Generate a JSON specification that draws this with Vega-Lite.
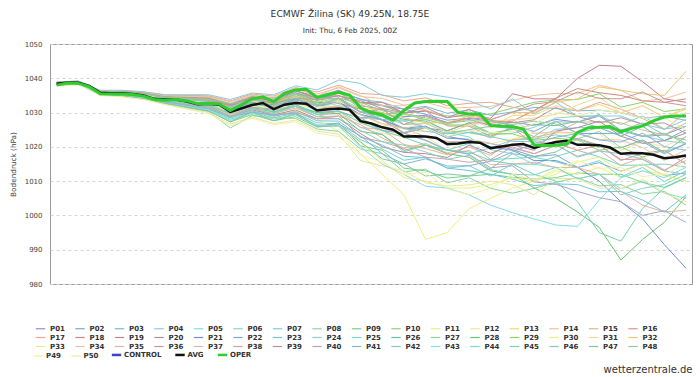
{
  "$schema": "https://vega.github.io/schema/vega-lite/v6.json",
  "width": 642,
  "height": 240,
  "autosize": {"type": "none"},
  "padding": {"left": 50, "top": 44, "right": 8, "bottom": 93},
  "background": "white",
  "config": {
    "font": "DejaVu Sans",
    "view": {"stroke": "#999999", "strokeWidth": 1},
    "legend": {
      "title": null,
      "orient": "none",
      "direction": "horizontal",
      "gridAlign": "each",
      "symbolLimit": 100,
      "symbolType": "stroke",
      "symbolSize": 88,
      "symbolStrokeWidth": 1.2,
      "labelFont": "DejaVu Sans",
      "labelFontSize": 7,
      "labelFontWeight": "bold",
      "labelColor": "#333333",
      "labelOffset": 4,
      "columnPadding": 7.5,
      "rowPadding": 0
    }
  },
  "title": {
    "text": "ECMWF Žilina (SK) 49.25N, 18.75E",
    "subtitle": "Init: Thu, 6 Feb 2025, 00Z",
    "anchor": "middle",
    "frame": "group",
    "dx": -21,
    "offset": 6,
    "font": "DejaVu Sans",
    "fontSize": 9.2,
    "fontWeight": "normal",
    "color": "#333333",
    "subtitleFont": "DejaVu Sans",
    "subtitleFontSize": 7.3,
    "subtitleColor": "#333333",
    "subtitlePadding": 8
  },
  "datasets": {
    "times": [
      {"k":"t00","t":1738846800000},{"k":"t01","t":1738890000000},{"k":"t02","t":1738933200000},{"k":"t03","t":1738976400000},{"k":"t04","t":1739019600000},{"k":"t05","t":1739062800000},{"k":"t06","t":1739106000000},{"k":"t07","t":1739149200000},{"k":"t08","t":1739192400000},{"k":"t09","t":1739235600000},{"k":"t10","t":1739278800000},{"k":"t11","t":1739322000000},{"k":"t12","t":1739365200000},{"k":"t13","t":1739408400000},{"k":"t14","t":1739451600000},{"k":"t15","t":1739494800000},{"k":"t16","t":1739538000000},{"k":"t17","t":1739581200000},{"k":"t18","t":1739624400000},{"k":"t19","t":1739667600000},{"k":"t20","t":1739710800000},{"k":"t21","t":1739754000000},{"k":"t22","t":1739797200000},{"k":"t23","t":1739840400000},{"k":"t24","t":1739883600000},{"k":"t25","t":1739926800000},{"k":"t26","t":1739970000000},{"k":"t27","t":1740013200000},{"k":"t28","t":1740056400000},{"k":"t29","t":1740099600000}
    ],
    "members": [
      {"s":"P01","t00":1038.6,"t01":1039.0,"t02":1036.2,"t03":1036.0,"t04":1035.6,"t05":1034.5,"t06":1034.2,"t07":1033.9,"t08":1032.0,"t09":1034.0,"t10":1033.1,"t11":1035.3,"t12":1033.6,"t13":1035.0,"t14":1032.0,"t15":1031.0,"t16":1028.8,"t17":1029.2,"t18":1027.1,"t19":1028.0,"t20":1026.2,"t21":1027.2,"t22":1026.3,"t23":1028.0,"t24":1027.2,"t25":1029.0,"t26":1024.8,"t27":1023.0,"t28":1023.5,"t29":1026.0},
      {"s":"P02","t00":1038.5,"t01":1038.8,"t02":1035.9,"t03":1035.8,"t04":1035.2,"t05":1034.1,"t06":1033.6,"t07":1033.1,"t08":1030.9,"t09":1032.9,"t10":1031.8,"t11":1033.8,"t12":1031.8,"t13":1032.7,"t14":1029.3,"t15":1027.8,"t16":1025.3,"t17":1025.5,"t18":1022.5,"t19":1022.2,"t20":1021.0,"t21":1019.2,"t22":1017.2,"t23":1017.7,"t24":1014.0,"t25":1015.4,"t26":1012.9,"t27":1015.0,"t28":1011.6,"t29":1012.4},
      {"s":"P03","t00":1038.8,"t01":1039.0,"t02":1036.3,"t03":1036.2,"t04":1035.8,"t05":1034.8,"t06":1034.6,"t07":1034.4,"t08":1032.7,"t09":1034.6,"t10":1033.9,"t11":1036.3,"t12":1034.8,"t13":1036.5,"t14":1033.8,"t15":1033.0,"t16":1031.0,"t17":1031.8,"t18":1029.8,"t19":1030.8,"t20":1029.2,"t21":1030.2,"t22":1031.5,"t23":1031.2,"t24":1030.5,"t25":1030.7,"t26":1030.0,"t27":1028.3,"t28":1029.0,"t29":1027.7},
      {"s":"P04","t00":1038.3,"t01":1038.6,"t02":1035.7,"t03":1035.4,"t04":1034.8,"t05":1033.5,"t06":1032.8,"t07":1032.1,"t08":1029.5,"t09":1031.5,"t10":1030.2,"t11":1031.8,"t12":1029.4,"t13":1029.7,"t14":1025.7,"t15":1023.6,"t16":1018.5,"t17":1020.5,"t18":1019.1,"t19":1018.0,"t20":1019.7,"t21":1022.0,"t22":1022.2,"t23":1025.1,"t24":1025.6,"t25":1025.6,"t26":1025.0,"t27":1023.2,"t28":1021.8,"t29":1021.0},
      {"s":"P05","t00":1038.6,"t01":1038.9,"t02":1036.1,"t03":1036.0,"t04":1035.4,"t05":1034.4,"t06":1034.0,"t07":1033.6,"t08":1031.6,"t09":1033.6,"t10":1032.7,"t11":1034.8,"t12":1033.0,"t13":1034.2,"t14":1031.1,"t15":1029.9,"t16":1027.6,"t17":1028.0,"t18":1024.2,"t19":1022.9,"t20":1019.2,"t21":1018.0,"t22":1014.9,"t23":1014.0,"t24":1010.7,"t25":1012.0,"t26":1007.8,"t27":1010.0,"t28":1006.5,"t29":1005.0},
      {"s":"P06","t00":1038.5,"t01":1038.8,"t02":1035.9,"t03":1035.7,"t04":1035.1,"t05":1033.9,"t06":1033.4,"t07":1032.9,"t08":1030.6,"t09":1032.6,"t10":1031.4,"t11":1033.3,"t12":1031.2,"t13":1032.0,"t14":1028.4,"t15":1028.0,"t16":1024.2,"t17":1026.0,"t18":1022.9,"t19":1024.3,"t20":1023.5,"t21":1024.0,"t22":1025.7,"t23":1028.4,"t24":1028.9,"t25":1029.0,"t26":1026.5,"t27":1029.0,"t28":1025.2,"t29":1026.0},
      {"s":"P07","t00":1038.1,"t01":1038.4,"t02":1035.4,"t03":1035.1,"t04":1034.3,"t05":1033.0,"t06":1032.0,"t07":1031.0,"t08":1028.0,"t09":1030.1,"t10":1028.5,"t11":1029.8,"t12":1027.0,"t13":1026.7,"t14":1022.1,"t15":1019.4,"t16":1016.1,"t17":1017.0,"t18":1013.8,"t19":1014.5,"t20":1011.5,"t21":1015.0,"t22":1014.9,"t23":1017.2,"t24":1019.0,"t25":1017.1,"t26":1014.6,"t27":1014.7,"t28":1015.0,"t29":1014.1},
      {"s":"P08","t00":1038.6,"t01":1038.9,"t02":1036.0,"t03":1035.9,"t04":1035.3,"t05":1034.2,"t06":1033.8,"t07":1033.4,"t08":1031.3,"t09":1033.3,"t10":1032.3,"t11":1034.3,"t12":1032.4,"t13":1033.5,"t14":1030.2,"t15":1028.9,"t16":1026.5,"t17":1026.8,"t18":1024.3,"t19":1024.8,"t20":1022.6,"t21":1026.0,"t22":1022.2,"t23":1023.5,"t24":1022.3,"t25":1024.5,"t26":1019.7,"t27":1022.0,"t28":1018.4,"t29":1021.0},
      {"s":"P09","t00":1038.0,"t01":1038.3,"t02":1035.2,"t03":1034.9,"t04":1034.1,"t05":1032.7,"t06":1031.6,"t07":1030.5,"t08":1027.3,"t09":1029.4,"t10":1027.6,"t11":1028.8,"t12":1025.8,"t13":1027.0,"t14":1020.3,"t15":1019.0,"t16":1013.8,"t17":1013.0,"t18":1010.9,"t19":1011.5,"t20":1012.0,"t21":1011.1,"t22":1010.6,"t23":1011.0,"t24":1012.4,"t25":1012.0,"t26":1012.0,"t27":1009.6,"t28":1008.2,"t29":1011.0},
      {"s":"P10","t00":1038.7,"t01":1039.0,"t02":1036.2,"t03":1036.1,"t04":1035.7,"t05":1034.6,"t06":1034.4,"t07":1034.2,"t08":1032.4,"t09":1034.3,"t10":1033.5,"t11":1035.8,"t12":1034.2,"t13":1035.7,"t14":1032.9,"t15":1032.0,"t16":1029.9,"t17":1030.5,"t18":1029.0,"t19":1029.0,"t20":1029.6,"t21":1031.3,"t22":1033.0,"t23":1033.7,"t24":1033.8,"t25":1035.5,"t26":1031.6,"t27":1033.0,"t28":1030.3,"t29":1031.1},
      {"s":"P11","t00":1038.2,"t01":1038.5,"t02":1035.6,"t03":1035.4,"t04":1034.7,"t05":1033.4,"t06":1032.6,"t07":1031.8,"t08":1029.0,"t09":1031.0,"t10":1029.5,"t11":1030.5,"t12":1028.0,"t13":1024.5,"t14":1018.0,"t15":1012.0,"t16":1006.0,"t17":993.0,"t18":995.0,"t19":1002.0,"t20":1005.0,"t21":1008.0,"t22":1010.0,"t23":1013.0,"t24":1012.0,"t25":1014.0,"t26":1011.0,"t27":1013.0,"t28":1012.0,"t29":1010.0},
      {"s":"P12","t00":1038.4,"t01":1038.7,"t02":1035.8,"t03":1035.6,"t04":1035.0,"t05":1033.8,"t06":1033.2,"t07":1032.6,"t08":1030.2,"t09":1032.2,"t10":1031.0,"t11":1032.8,"t12":1030.6,"t13":1029.5,"t14":1027.5,"t15":1024.0,"t16":1023.0,"t17":1023.0,"t18":1019.0,"t19":1022.2,"t20":1020.9,"t21":1022.3,"t22":1024.0,"t23":1024.1,"t24":1023.9,"t25":1023.9,"t26":1019.0,"t27":1021.5,"t28":1020.1,"t29":1023.0},
      {"s":"P13","t00":1038.6,"t01":1038.9,"t02":1036.1,"t03":1036.0,"t04":1035.4,"t05":1034.4,"t06":1034.0,"t07":1033.6,"t08":1031.6,"t09":1033.0,"t10":1032.7,"t11":1035.5,"t12":1033.0,"t13":1033.5,"t14":1031.1,"t15":1031.0,"t16":1026.5,"t17":1028.0,"t18":1026.5,"t19":1028.3,"t20":1025.5,"t21":1029.2,"t22":1029.2,"t23":1032.0,"t24":1030.5,"t25":1032.4,"t26":1029.9,"t27":1032.0,"t28":1028.6,"t29":1031.0},
      {"s":"P14","t00":1038.8,"t01":1039.1,"t02":1036.4,"t03":1036.3,"t04":1035.9,"t05":1034.9,"t06":1034.8,"t07":1034.7,"t08":1033.1,"t09":1035.0,"t10":1034.4,"t11":1036.8,"t12":1035.4,"t13":1037.2,"t14":1034.7,"t15":1034.1,"t16":1032.2,"t17":1033.0,"t18":1031.3,"t19":1031.5,"t20":1031.8,"t21":1033.5,"t22":1035.0,"t23":1035.6,"t24":1035.5,"t25":1038.0,"t26":1036.5,"t27":1033.4,"t28":1034.0,"t29":1036.0},
      {"s":"P15","t00":1038.3,"t01":1038.6,"t02":1035.6,"t03":1035.3,"t04":1034.7,"t05":1033.4,"t06":1032.6,"t07":1031.8,"t08":1029.1,"t09":1031.2,"t10":1029.7,"t11":1031.3,"t12":1028.8,"t13":1029.0,"t14":1026.5,"t15":1022.6,"t16":1019.6,"t17":1021.0,"t18":1018.2,"t19":1020.0,"t20":1017.5,"t21":1022.1,"t22":1022.8,"t23":1024.0,"t24":1027.2,"t25":1027.3,"t26":1027.0,"t27":1024.9,"t28":1023.5,"t29":1027.0},
      {"s":"P16","t00":1038.6,"t01":1039.0,"t02":1036.2,"t03":1036.0,"t04":1035.6,"t05":1034.5,"t06":1034.2,"t07":1033.9,"t08":1032.0,"t09":1034.8,"t10":1033.1,"t11":1035.3,"t12":1034.5,"t13":1035.0,"t14":1033.0,"t15":1032.2,"t16":1030.0,"t17":1030.5,"t18":1026.1,"t19":1026.0,"t20":1023.1,"t21":1025.5,"t22":1020.8,"t23":1021.2,"t24":1019.0,"t25":1020.5,"t26":1016.3,"t27":1016.4,"t28":1013.0,"t29":1017.0},
      {"s":"P17","t00":1038.9,"t01":1039.2,"t02":1036.4,"t03":1036.4,"t04":1036.0,"t05":1035.1,"t06":1035.0,"t07":1034.9,"t08":1033.4,"t09":1035.4,"t10":1034.8,"t11":1037.3,"t12":1036.0,"t13":1038.0,"t14":1035.6,"t15":1035.2,"t16":1033.4,"t17":1034.3,"t18":1032.0,"t19":1032.7,"t20":1033.0,"t21":1031.6,"t22":1030.4,"t23":1034.0,"t24":1030.5,"t25":1033.0,"t26":1031.0,"t27":1028.3,"t28":1025.0,"t29":1030.0},
      {"s":"P18","t00":1038.5,"t01":1038.8,"t02":1035.9,"t03":1035.8,"t04":1035.2,"t05":1034.1,"t06":1033.6,"t07":1033.1,"t08":1030.9,"t09":1032.9,"t10":1031.8,"t11":1033.8,"t12":1033.0,"t13":1032.7,"t14":1031.0,"t15":1027.8,"t16":1024.0,"t17":1025.5,"t18":1024.7,"t19":1027.0,"t20":1026.9,"t21":1027.5,"t22":1030.6,"t23":1034.2,"t24":1037.0,"t25":1035.8,"t26":1035.0,"t27":1033.4,"t28":1033.0,"t29":1034.0},
      {"s":"P19","t00":1038.7,"t01":1039.0,"t02":1036.2,"t03":1036.1,"t04":1035.7,"t05":1034.6,"t06":1034.4,"t07":1034.2,"t08":1032.4,"t09":1034.3,"t10":1033.5,"t11":1036.5,"t12":1034.2,"t13":1036.5,"t14":1032.9,"t15":1033.0,"t16":1029.9,"t17":1030.5,"t18":1028.5,"t19":1029.5,"t20":1028.3,"t21":1035.5,"t22":1034.0,"t23":1034.0,"t24":1040.0,"t25":1043.8,"t26":1043.5,"t27":1039.0,"t28":1034.0,"t29":1033.0},
      {"s":"P20","t00":1038.2,"t01":1038.5,"t02":1035.5,"t03":1035.2,"t04":1034.6,"t05":1033.2,"t06":1032.4,"t07":1031.6,"t08":1028.8,"t09":1030.8,"t10":1029.3,"t11":1030.8,"t12":1028.2,"t13":1028.2,"t14":1023.9,"t15":1020.0,"t16":1018.4,"t17":1018.0,"t18":1016.9,"t19":1020.5,"t20":1018.1,"t21":1020.6,"t22":1019.0,"t23":1024.6,"t24":1025.6,"t25":1027.5,"t26":1023.1,"t27":1021.0,"t28":1021.8,"t29":1024.0},
      {"s":"P21","t00":1038.6,"t01":1038.9,"t02":1036.0,"t03":1035.9,"t04":1035.3,"t05":1034.2,"t06":1033.8,"t07":1033.4,"t08":1031.0,"t09":1033.0,"t10":1032.0,"t11":1034.0,"t12":1032.0,"t13":1033.0,"t14":1029.5,"t15":1028.0,"t16":1025.5,"t17":1026.0,"t18":1023.0,"t19":1022.0,"t20":1020.0,"t21":1019.0,"t22":1016.0,"t23":1016.0,"t24":1014.0,"t25":1010.0,"t26":1004.0,"t27":999.0,"t28":991.5,"t29":984.6},
      {"s":"P22","t00":1038.7,"t01":1039.0,"t02":1036.2,"t03":1036.1,"t04":1035.7,"t05":1034.6,"t06":1034.4,"t07":1034.2,"t08":1031.8,"t09":1034.3,"t10":1034.2,"t11":1035.8,"t12":1033.5,"t13":1035.7,"t14":1034.0,"t15":1032.0,"t16":1031.0,"t17":1029.5,"t18":1027.8,"t19":1028.3,"t20":1027.5,"t21":1026.2,"t22":1024.5,"t23":1027.5,"t24":1023.9,"t25":1023.9,"t26":1024.0,"t27":1021.5,"t28":1018.0,"t29":1020.9},
      {"s":"P23","t00":1038.2,"t01":1038.5,"t02":1035.5,"t03":1035.2,"t04":1034.5,"t05":1033.1,"t06":1032.2,"t07":1031.3,"t08":1028.4,"t09":1030.5,"t10":1028.9,"t11":1030.3,"t12":1027.6,"t13":1027.5,"t14":1023.0,"t15":1020.5,"t16":1017.3,"t17":1016.8,"t18":1013.8,"t19":1013.1,"t20":1012.0,"t21":1010.6,"t22":1008.7,"t23":1009.2,"t24":1009.0,"t25":1006.9,"t26":1007.0,"t27":1004.5,"t28":1001.0,"t29":1006.0},
      {"s":"P24","t00":1038.9,"t01":1039.2,"t02":1036.5,"t03":1036.5,"t04":1036.1,"t05":1035.2,"t06":1035.2,"t07":1035.2,"t08":1033.8,"t09":1035.7,"t10":1035.2,"t11":1037.8,"t12":1036.6,"t13":1039.5,"t14":1038.5,"t15":1035.0,"t16":1034.5,"t17":1035.5,"t18":1034.5,"t19":1033.4,"t20":1031.1,"t21":1034.0,"t22":1029.6,"t23":1033.0,"t24":1028.9,"t25":1029.0,"t26":1029.0,"t27":1026.6,"t28":1025.2,"t29":1028.0},
      {"s":"P25","t00":1038.4,"t01":1038.7,"t02":1035.7,"t03":1035.5,"t04":1034.9,"t05":1033.7,"t06":1033.0,"t07":1032.3,"t08":1029.8,"t09":1031.9,"t10":1030.6,"t11":1032.3,"t12":1030.0,"t13":1030.5,"t14":1028.0,"t15":1024.7,"t16":1024.0,"t17":1021.8,"t18":1019.0,"t19":1021.0,"t20":1016.3,"t21":1016.6,"t22":1017.0,"t23":1015.6,"t24":1014.0,"t25":1016.0,"t26":1011.2,"t27":1014.0,"t28":1009.9,"t29":1013.0},
      {"s":"P26","t00":1038.6,"t01":1038.9,"t02":1036.0,"t03":1035.9,"t04":1035.3,"t05":1034.2,"t06":1033.8,"t07":1033.4,"t08":1031.3,"t09":1032.8,"t10":1032.3,"t11":1034.8,"t12":1032.4,"t13":1034.0,"t14":1030.2,"t15":1030.0,"t16":1028.0,"t17":1027.5,"t18":1024.7,"t19":1027.0,"t20":1024.0,"t21":1025.1,"t22":1026.5,"t23":1026.2,"t24":1027.5,"t25":1025.6,"t26":1023.1,"t27":1026.0,"t28":1021.8,"t29":1025.0},
      {"s":"P27","t00":1038.0,"t01":1038.3,"t02":1035.2,"t03":1034.8,"t04":1034.0,"t05":1032.5,"t06":1031.4,"t07":1030.3,"t08":1025.5,"t09":1029.1,"t10":1028.5,"t11":1028.3,"t12":1025.2,"t13":1024.5,"t14":1019.4,"t15":1018.0,"t16":1012.7,"t17":1013.5,"t18":1009.5,"t19":1011.0,"t20":1007.9,"t21":1006.5,"t22":1007.9,"t23":1009.7,"t24":1011.0,"t25":1008.6,"t26":1009.0,"t27":1006.2,"t28":1007.0,"t29":1003.0},
      {"s":"P28","t00":1038.3,"t01":1038.6,"t02":1035.7,"t03":1035.4,"t04":1034.8,"t05":1033.5,"t06":1032.8,"t07":1032.1,"t08":1028.5,"t09":1031.5,"t10":1030.2,"t11":1031.8,"t12":1030.0,"t13":1029.7,"t14":1024.5,"t15":1023.6,"t16":1019.0,"t17":1020.5,"t18":1018.0,"t19":1017.0,"t20":1013.0,"t21":1012.0,"t22":1008.0,"t23":1005.0,"t24":1001.0,"t25":996.5,"t26":987.0,"t27":993.0,"t28":998.0,"t29":1005.5},
      {"s":"P29","t00":1038.6,"t01":1039.0,"t02":1036.2,"t03":1036.0,"t04":1035.6,"t05":1034.5,"t06":1034.2,"t07":1033.9,"t08":1031.2,"t09":1034.0,"t10":1032.5,"t11":1035.3,"t12":1032.8,"t13":1036.0,"t14":1031.0,"t15":1029.8,"t16":1029.5,"t17":1028.0,"t18":1026.4,"t19":1026.4,"t20":1023.8,"t21":1023.8,"t22":1021.9,"t23":1022.5,"t24":1022.0,"t25":1019.0,"t26":1020.0,"t27":1017.0,"t28":1019.0,"t29":1015.0},
      {"s":"P30","t00":1038.1,"t01":1038.4,"t02":1035.3,"t03":1035.0,"t04":1034.2,"t05":1032.8,"t06":1031.8,"t07":1030.8,"t08":1027.7,"t09":1029.8,"t10":1028.1,"t11":1029.3,"t12":1026.4,"t13":1026.0,"t14":1021.2,"t15":1016.0,"t16":1011.0,"t17":1010.0,"t18":1008.0,"t19":1008.0,"t20":1009.0,"t21":1011.0,"t22":1010.0,"t23":1012.0,"t24":1015.6,"t25":1017.0,"t26":1012.9,"t27":1015.0,"t28":1011.6,"t29":1010.0},
      {"s":"P31","t00":1038.5,"t01":1038.8,"t02":1035.9,"t03":1035.8,"t04":1035.2,"t05":1034.1,"t06":1033.6,"t07":1033.1,"t08":1030.9,"t09":1033.4,"t10":1031.8,"t11":1034.5,"t12":1031.8,"t13":1031.8,"t14":1029.3,"t15":1026.5,"t16":1025.3,"t17":1027.0,"t18":1024.3,"t19":1026.2,"t20":1027.5,"t21":1027.9,"t22":1028.4,"t23":1029.5,"t24":1032.2,"t25":1034.5,"t26":1029.9,"t27":1032.0,"t28":1028.6,"t29":1031.5},
      {"s":"P32","t00":1038.6,"t01":1038.9,"t02":1036.1,"t03":1036.0,"t04":1035.4,"t05":1034.4,"t06":1034.0,"t07":1033.6,"t08":1031.6,"t09":1033.6,"t10":1033.3,"t11":1034.8,"t12":1032.2,"t13":1034.2,"t14":1032.5,"t15":1029.9,"t16":1028.5,"t17":1027.0,"t18":1027.0,"t19":1029.0,"t20":1028.0,"t21":1030.0,"t22":1030.0,"t23":1033.0,"t24":1034.0,"t25":1037.5,"t26":1036.5,"t27":1035.5,"t28":1035.0,"t29":1042.0},
      {"s":"P33","t00":1037.9,"t01":1038.2,"t02":1035.1,"t03":1034.7,"t04":1033.9,"t05":1032.4,"t06":1031.2,"t07":1030.0,"t08":1026.6,"t09":1028.7,"t10":1026.8,"t11":1027.8,"t12":1024.6,"t13":1023.7,"t14":1016.0,"t15":1014.5,"t16":1013.0,"t17":1009.5,"t18":1008.6,"t19":1008.9,"t20":1010.0,"t21":1009.0,"t22":1006.0,"t23":1010.8,"t24":1010.7,"t25":1008.0,"t26":1007.8,"t27":1010.5,"t28":1006.5,"t29":1004.0},
      {"s":"P34","t00":1038.8,"t01":1039.0,"t02":1036.3,"t03":1036.2,"t04":1035.8,"t05":1034.8,"t06":1034.6,"t07":1034.4,"t08":1032.7,"t09":1035.2,"t10":1033.9,"t11":1037.0,"t12":1034.8,"t13":1037.5,"t14":1035.0,"t15":1032.0,"t16":1032.0,"t17":1030.8,"t18":1028.7,"t19":1030.5,"t20":1026.0,"t21":1028.0,"t22":1023.9,"t23":1024.4,"t24":1024.0,"t25":1022.2,"t26":1022.0,"t27":1019.8,"t28":1016.0,"t29":1019.2},
      {"s":"P35","t00":1038.3,"t01":1038.6,"t02":1035.7,"t03":1035.4,"t04":1034.8,"t05":1033.5,"t06":1032.8,"t07":1032.1,"t08":1029.5,"t09":1031.0,"t10":1030.8,"t11":1031.8,"t12":1028.8,"t13":1030.5,"t14":1025.7,"t15":1025.0,"t16":1020.7,"t17":1019.5,"t18":1017.7,"t19":1019.0,"t20":1014.8,"t21":1015.0,"t22":1015.5,"t23":1014.0,"t24":1014.0,"t25":1012.0,"t26":1007.0,"t27":1003.0,"t28":1001.0,"t29":1001.5},
      {"s":"P36","t00":1038.6,"t01":1038.9,"t02":1036.1,"t03":1036.0,"t04":1035.4,"t05":1034.4,"t06":1034.0,"t07":1033.6,"t08":1032.2,"t09":1034.2,"t10":1032.7,"t11":1034.2,"t12":1033.8,"t13":1034.2,"t14":1030.0,"t15":1031.0,"t16":1026.5,"t17":1029.0,"t18":1026.8,"t19":1028.5,"t20":1027.9,"t21":1030.1,"t22":1032.5,"t23":1033.2,"t24":1036.0,"t25":1034.1,"t26":1034.0,"t27":1036.0,"t28":1033.0,"t29":1032.0},
      {"s":"P37","t00":1038.5,"t01":1038.8,"t02":1035.9,"t03":1035.7,"t04":1035.1,"t05":1033.9,"t06":1033.4,"t07":1032.9,"t08":1030.6,"t09":1032.6,"t10":1031.9,"t11":1033.3,"t12":1030.8,"t13":1032.0,"t14":1029.5,"t15":1026.8,"t16":1025.5,"t17":1023.0,"t18":1021.6,"t19":1021.5,"t20":1021.0,"t21":1019.6,"t22":1018.0,"t23":1020.5,"t24":1017.3,"t25":1019.0,"t26":1014.6,"t27":1017.0,"t28":1013.3,"t29":1016.0},
      {"s":"P38","t00":1038.2,"t01":1038.5,"t02":1035.5,"t03":1035.2,"t04":1034.6,"t05":1033.2,"t06":1032.4,"t07":1031.6,"t08":1028.8,"t09":1031.4,"t10":1029.3,"t11":1030.0,"t12":1028.2,"t13":1029.0,"t14":1022.8,"t15":1021.5,"t16":1019.5,"t17":1017.0,"t18":1016.4,"t19":1015.5,"t20":1016.3,"t21":1020.0,"t22":1018.0,"t23":1020.4,"t24":1022.5,"t25":1020.5,"t26":1016.0,"t27":1018.1,"t28":1019.0,"t29":1015.0},
      {"s":"P39","t00":1038.7,"t01":1039.0,"t02":1036.2,"t03":1036.1,"t04":1035.7,"t05":1034.6,"t06":1034.4,"t07":1034.2,"t08":1032.4,"t09":1033.8,"t10":1032.8,"t11":1036.3,"t12":1034.2,"t13":1034.8,"t14":1033.5,"t15":1031.2,"t16":1029.9,"t17":1031.5,"t18":1028.5,"t19":1031.0,"t20":1027.7,"t21":1027.0,"t22":1027.9,"t23":1031.5,"t24":1028.9,"t25":1027.0,"t26":1028.5,"t27":1026.6,"t28":1027.0,"t29":1024.0},
      {"s":"P40","t00":1038.4,"t01":1038.7,"t02":1035.8,"t03":1035.6,"t04":1035.0,"t05":1033.8,"t06":1033.2,"t07":1032.6,"t08":1030.8,"t09":1031.6,"t10":1031.0,"t11":1033.5,"t12":1030.6,"t13":1030.2,"t14":1028.5,"t15":1024.8,"t16":1024.0,"t17":1022.0,"t18":1019.1,"t19":1017.8,"t20":1013.9,"t21":1014.5,"t22":1009.8,"t23":1009.1,"t24":1007.0,"t25":1005.2,"t26":1004.0,"t27":1000.0,"t28":1001.4,"t29":998.0},
      {"s":"P41","t00":1038.1,"t01":1038.4,"t02":1035.4,"t03":1035.1,"t04":1034.3,"t05":1033.0,"t06":1032.0,"t07":1031.0,"t08":1028.8,"t09":1030.1,"t10":1029.2,"t11":1029.8,"t12":1026.2,"t13":1026.7,"t14":1023.2,"t15":1018.0,"t16":1015.0,"t17":1016.5,"t18":1014.4,"t19":1014.5,"t20":1015.8,"t21":1018.5,"t22":1021.0,"t23":1022.8,"t24":1023.9,"t25":1022.0,"t26":1021.4,"t27":1024.0,"t28":1020.1,"t29":1019.0},
      {"s":"P42","t00":1038.6,"t01":1038.9,"t02":1036.0,"t03":1035.9,"t04":1035.3,"t05":1034.2,"t06":1033.8,"t07":1033.4,"t08":1031.3,"t09":1034.0,"t10":1031.8,"t11":1034.3,"t12":1031.8,"t13":1034.3,"t14":1030.2,"t15":1028.0,"t16":1027.5,"t17":1025.8,"t18":1023.9,"t19":1024.1,"t20":1023.0,"t21":1021.6,"t22":1021.5,"t23":1020.8,"t24":1017.0,"t25":1018.8,"t26":1018.0,"t27":1016.4,"t28":1013.0,"t29":1012.0},
      {"s":"P43","t00":1038.1,"t01":1038.4,"t02":1035.3,"t03":1035.0,"t04":1034.2,"t05":1032.8,"t06":1031.8,"t07":1030.8,"t08":1027.7,"t09":1029.8,"t10":1028.1,"t11":1029.3,"t12":1026.4,"t13":1026.0,"t14":1020.0,"t15":1015.0,"t16":1012.0,"t17":1008.5,"t18":1008.0,"t19":1006.0,"t20":1003.0,"t21":1000.8,"t22":999.0,"t23":997.2,"t24":996.8,"t25":1004.5,"t26":1011.0,"t27":1013.0,"t28":1011.0,"t29":1014.0},
      {"s":"P44","t00":1038.3,"t01":1038.6,"t02":1035.6,"t03":1035.3,"t04":1034.7,"t05":1033.4,"t06":1032.6,"t07":1031.8,"t08":1028.5,"t09":1031.2,"t10":1029.7,"t11":1031.8,"t12":1028.8,"t13":1028.2,"t14":1024.8,"t15":1021.5,"t16":1020.5,"t17":1018.5,"t18":1016.4,"t19":1017.5,"t20":1013.4,"t21":1012.0,"t22":1011.8,"t23":1014.0,"t24":1010.7,"t25":1012.0,"t26":1006.0,"t27":1007.9,"t28":1009.0,"t29":1012.0},
      {"s":"P45","t00":1038.4,"t01":1038.7,"t02":1035.7,"t03":1035.5,"t04":1034.9,"t05":1033.7,"t06":1033.0,"t07":1032.3,"t08":1029.8,"t09":1032.5,"t10":1030.0,"t11":1032.3,"t12":1029.5,"t13":1030.5,"t14":1027.0,"t15":1024.7,"t16":1022.8,"t17":1020.5,"t18":1019.0,"t19":1018.5,"t20":1016.0,"t21":1015.0,"t22":1012.0,"t23":1010.0,"t24":1004.0,"t25":995.0,"t26":992.5,"t27":1002.0,"t28":1008.0,"t29":1011.0},
      {"s":"P46","t00":1038.5,"t01":1038.8,"t02":1035.9,"t03":1035.8,"t04":1035.2,"t05":1034.1,"t06":1033.6,"t07":1033.1,"t08":1031.5,"t09":1032.9,"t10":1031.2,"t11":1033.8,"t12":1032.3,"t13":1032.7,"t14":1028.5,"t15":1028.8,"t16":1025.3,"t17":1024.5,"t18":1023.8,"t19":1025.0,"t20":1026.0,"t21":1025.3,"t22":1023.0,"t23":1027.3,"t24":1027.2,"t25":1029.5,"t26":1024.8,"t27":1027.0,"t28":1023.5,"t29":1022.0},
      {"s":"P47","t00":1038.0,"t01":1038.3,"t02":1035.2,"t03":1034.9,"t04":1034.1,"t05":1032.7,"t06":1031.6,"t07":1030.5,"t08":1027.3,"t09":1030.2,"t10":1027.6,"t11":1029.6,"t12":1025.8,"t13":1026.2,"t14":1021.5,"t15":1016.5,"t16":1015.0,"t17":1011.5,"t18":1012.1,"t19":1011.5,"t20":1013.7,"t21":1018.0,"t22":1017.2,"t23":1018.5,"t24":1022.3,"t25":1020.0,"t26":1019.7,"t27":1022.0,"t28":1018.4,"t29":1023.0},
      {"s":"P48","t00":1038.6,"t01":1039.0,"t02":1036.2,"t03":1036.0,"t04":1035.6,"t05":1034.5,"t06":1034.2,"t07":1033.9,"t08":1032.6,"t09":1033.5,"t10":1033.6,"t11":1035.3,"t12":1034.0,"t13":1034.2,"t14":1033.0,"t15":1030.5,"t16":1029.8,"t17":1028.5,"t18":1026.9,"t19":1027.6,"t20":1027.5,"t21":1026.5,"t22":1027.5,"t23":1026.7,"t24":1024.0,"t25":1025.6,"t26":1025.0,"t27":1023.2,"t28":1024.0,"t29":1021.0},
      {"s":"P49","t00":1037.9,"t01":1038.2,"t02":1035.0,"t03":1034.6,"t04":1033.8,"t05":1032.3,"t06":1031.0,"t07":1029.7,"t08":1026.2,"t09":1028.4,"t10":1026.4,"t11":1027.3,"t12":1024.0,"t13":1023.0,"t14":1017.6,"t15":1015.5,"t16":1012.0,"t17":1012.5,"t18":1007.8,"t19":1006.0,"t20":1008.0,"t21":1012.0,"t22":1010.4,"t23":1013.4,"t24":1016.0,"t25":1013.7,"t26":1014.0,"t27":1011.3,"t28":1012.0,"t29":1015.0},
      {"s":"P50","t00":1038.5,"t01":1038.8,"t02":1035.9,"t03":1035.7,"t04":1035.1,"t05":1033.9,"t06":1033.4,"t07":1032.9,"t08":1030.6,"t09":1031.8,"t10":1031.4,"t11":1032.5,"t12":1031.2,"t13":1033.0,"t14":1027.0,"t15":1026.8,"t16":1022.5,"t17":1025.5,"t18":1023.0,"t19":1024.8,"t20":1024.1,"t21":1024.5,"t22":1026.8,"t23":1029.9,"t24":1029.0,"t25":1030.7,"t26":1030.0,"t27":1028.3,"t28":1028.5,"t29":1025.0}
    ],
    "key": [
      {"t":1738846800000,"AVG":1038.4,"OPER":1038.0},
      {"t":1738868400000,"AVG":1038.8,"OPER":1038.6},
      {"t":1738890000000,"AVG":1038.7,"OPER":1038.5},
      {"t":1738911600000,"AVG":1037.8,"OPER":1037.6},
      {"t":1738933200000,"AVG":1035.8,"OPER":1035.5},
      {"t":1738954800000,"AVG":1035.6,"OPER":1035.4},
      {"t":1738976400000,"AVG":1035.6,"OPER":1035.4},
      {"t":1738998000000,"AVG":1035.4,"OPER":1035.3},
      {"t":1739019600000,"AVG":1035.0,"OPER":1034.8},
      {"t":1739041200000,"AVG":1034.0,"OPER":1033.8},
      {"t":1739062800000,"AVG":1033.8,"OPER":1033.6},
      {"t":1739084400000,"AVG":1033.8,"OPER":1033.8},
      {"t":1739106000000,"AVG":1033.2,"OPER":1033.4},
      {"t":1739127600000,"AVG":1032.4,"OPER":1032.6},
      {"t":1739149200000,"AVG":1032.6,"OPER":1032.7},
      {"t":1739170800000,"AVG":1032.3,"OPER":1032.5},
      {"t":1739192400000,"AVG":1030.2,"OPER":1030.6},
      {"t":1739214000000,"AVG":1031.2,"OPER":1032.2},
      {"t":1739235600000,"AVG":1032.2,"OPER":1034.0},
      {"t":1739257200000,"AVG":1032.8,"OPER":1034.6},
      {"t":1739278800000,"AVG":1031.0,"OPER":1033.2},
      {"t":1739300400000,"AVG":1032.3,"OPER":1035.6},
      {"t":1739322000000,"AVG":1032.8,"OPER":1036.6},
      {"t":1739343600000,"AVG":1032.6,"OPER":1036.8},
      {"t":1739365200000,"AVG":1030.6,"OPER":1034.4},
      {"t":1739386800000,"AVG":1031.0,"OPER":1035.2},
      {"t":1739408400000,"AVG":1031.2,"OPER":1035.9},
      {"t":1739430000000,"AVG":1030.8,"OPER":1035.1},
      {"t":1739451600000,"AVG":1027.5,"OPER":1031.4},
      {"t":1739473200000,"AVG":1026.8,"OPER":1030.0},
      {"t":1739494800000,"AVG":1025.7,"OPER":1029.3},
      {"t":1739516400000,"AVG":1025.0,"OPER":1027.8},
      {"t":1739538000000,"AVG":1023.0,"OPER":1030.6},
      {"t":1739559600000,"AVG":1023.1,"OPER":1032.8},
      {"t":1739581200000,"AVG":1023.0,"OPER":1033.2},
      {"t":1739602800000,"AVG":1022.6,"OPER":1033.3},
      {"t":1739624400000,"AVG":1020.8,"OPER":1033.2},
      {"t":1739646000000,"AVG":1021.0,"OPER":1030.0},
      {"t":1739667600000,"AVG":1021.4,"OPER":1029.6},
      {"t":1739689200000,"AVG":1021.2,"OPER":1029.6},
      {"t":1739710800000,"AVG":1019.6,"OPER":1026.2},
      {"t":1739732400000,"AVG":1020.1,"OPER":1026.0},
      {"t":1739754000000,"AVG":1020.6,"OPER":1025.9},
      {"t":1739775600000,"AVG":1020.8,"OPER":1025.2},
      {"t":1739797200000,"AVG":1019.7,"OPER":1020.5},
      {"t":1739818800000,"AVG":1020.6,"OPER":1020.4},
      {"t":1739840400000,"AVG":1021.4,"OPER":1020.5},
      {"t":1739862000000,"AVG":1021.8,"OPER":1020.8},
      {"t":1739883600000,"AVG":1020.6,"OPER":1024.2},
      {"t":1739905200000,"AVG":1020.6,"OPER":1025.6},
      {"t":1739926800000,"AVG":1020.5,"OPER":1025.7},
      {"t":1739948400000,"AVG":1019.8,"OPER":1025.9},
      {"t":1739970000000,"AVG":1018.0,"OPER":1024.4},
      {"t":1739991600000,"AVG":1018.2,"OPER":1025.4},
      {"t":1740013200000,"AVG":1018.1,"OPER":1026.1},
      {"t":1740034800000,"AVG":1017.7,"OPER":1027.6},
      {"t":1740056400000,"AVG":1016.7,"OPER":1028.7},
      {"t":1740078000000,"AVG":1017.0,"OPER":1029.0},
      {"t":1740099600000,"AVG":1017.5,"OPER":1029.0}
    ]
  },
  "encoding": {
    "x": {
      "field": "t", "type": "temporal",
      "scale": {"type": "utc", "domain": [1738833480000, 1740111540000]},
      "axis": {
        "values": [1738886400000,1738972800000,1739059200000,1739145600000,1739232000000,1739318400000,1739404800000,1739491200000,1739577600000,1739664000000,1739750400000,1739836800000,1739923200000,1740009600000,1740096000000],
        "format": "%-d. %b",
        "labelFont": "DejaVu Sans", "labelFontSize": 6.8, "labelColor": "#444444", "labelPadding": 5,
        "ticks": false, "domain": false,
        "grid": true, "gridColor": "#d4d4d4", "gridDash": [3, 3], "gridWidth": 1,
        "title": "Local time (UTC+1)",
        "titleFont": "DejaVu Sans", "titleFontSize": 7.3, "titleFontWeight": "normal", "titleColor": "#444444", "titlePadding": 4
      }
    },
    "y": {
      "field": "p", "type": "quantitative",
      "scale": {"domain": [980, 1050], "nice": false, "zero": false},
      "axis": {
        "values": [980, 990, 1000, 1010, 1020, 1030, 1040, 1050],
        "format": "d",
        "labelFont": "DejaVu Sans", "labelFontSize": 7, "labelColor": "#444444", "labelPadding": 8,
        "ticks": false, "domain": false,
        "grid": true, "gridColor": "#d4d4d4", "gridDash": [3, 3], "gridWidth": 1,
        "title": "Bodendruck (hPa)",
        "titleFont": "DejaVu Sans", "titleFontSize": 7.3, "titleFontWeight": "normal", "titleColor": "#444444", "titlePadding": 7
      }
    }
  },
  "layer": [
    {
      "data": {"name": "members"},
      "transform": [
        {"fold": ["t00","t01","t02","t03","t04","t05","t06","t07","t08","t09","t10","t11","t12","t13","t14","t15","t16","t17","t18","t19","t20","t21","t22","t23","t24","t25","t26","t27","t28","t29"], "as": ["k", "p"]},
        {"lookup": "k", "from": {"data": {"name": "times"}, "key": "k", "fields": ["t"]}}
      ],
      "mark": {"type": "line", "strokeWidth": 1},
      "encoding": {
        "color": {
          "field": "s", "type": "nominal",
          "scale": {
            "domain": ["P01","P02","P03","P04","P05","P06","P07","P08","P09","P10","P11","P12","P13","P14","P15","P16","P17","P18","P19","P20","P21","P22","P23","P24","P25","P26","P27","P28","P29","P30","P31","P32","P33","P34","P35","P36","P37","P38","P39","P40","P41","P42","P43","P44","P45","P46","P47","P48","P49","P50"],
            "range": ["#8c8fd6","#7ba3d9","#74b9d6","#86cbe3","#7fe0dc","#86d6c0","#73d3c6","#8fd4a6","#72d28e","#8ad46e","#f2f07c","#f3e69a","#f2d77a","#f0c39a","#e9b48a","#e39486","#e8a98c","#d08a7c","#c8808c","#b8869e","#6f8ed8","#78a8d8","#6fc6d8","#8ccbe0","#73d6c8","#62c2a2","#86d699","#6cc46e","#8cd666","#e6f27e","#f2d89a","#f0c274","#e6e89a","#e6c8a8","#e2b4a4","#c89896","#d8b6b2","#c8a6a6","#b8969a","#a6a6c8","#86b4d8","#86c6c6","#86dcec","#86d4c4","#74d2b4","#8ac6b6","#86c4a4","#98c896","#f2f2a6","#e6f2a6"]
          },
          "legend": {
            "values": ["P01","P02","P03","P04","P05","P06","P07","P08","P09","P10","P11","P12","P13","P14","P15","P16","P17","P18","P19","P20","P21","P22","P23","P24","P25","P26","P27","P28","P29","P30","P31","P32","P33","P34","P35","P36","P37","P38","P39","P40","P41","P42","P43","P44","P45","P46","P47","P48"],
            "legendX": -15,
            "legendY": 279,
            "columns": 16
          }
        }
      }
    },
    {
      "data": {"name": "key"},
      "transform": [{"fold": ["AVG"], "as": ["s", "p"]}],
      "mark": {"type": "line", "strokeWidth": 2.5},
      "encoding": {
        "x": {"field": "t", "type": "temporal", "scale": {"type": "utc", "domain": [1738833480000, 1740111540000]}, "axis": null},
        "y": {"field": "p", "type": "quantitative", "scale": {"domain": [980, 1050], "nice": false, "zero": false}, "axis": null},
        "color": {
          "field": "s", "type": "nominal",
          "scale": {"domain": ["P49","P50","CONTROL","AVG","OPER"], "range": ["#f2f2a6","#e6f2a6","#3f3fd0","#111111","#2ecc2e"]},
          "legend": {
            "legendX": -15,
            "legendY": 307.2,
            "columns": 5,
            "encode": {
              "symbols": {"update": {"strokeWidth": {"signal": "indexof(['CONTROL','AVG','OPER'], datum.value) >= 0 ? 2.5 : 1.2"}}}
            }
          }
        }
      }
    },
    {
      "data": {"name": "key"},
      "transform": [{"fold": ["OPER"], "as": ["s", "p"]}],
      "mark": {"type": "line", "strokeWidth": 3},
      "encoding": {
        "x": {"field": "t", "type": "temporal", "scale": {"type": "utc", "domain": [1738833480000, 1740111540000]}, "axis": null},
        "y": {
          "field": "p", "type": "quantitative",
          "scale": {"domain": [980, 1050], "nice": false, "zero": false},
          "axis": {
            "orient": "right", "labels": false, "ticks": false, "domain": false, "grid": false,
            "title": "wetterzentrale.de",
            "titleAngle": 0, "titleAlign": "right", "titleBaseline": "alphabetic",
            "titleX": 0, "titleY": 328,
            "titleFont": "DejaVu Sans", "titleFontSize": 10, "titleFontWeight": "normal", "titleColor": "#333333"
          }
        },
        "color": {
          "field": "s", "type": "nominal",
          "scale": {"domain": ["P49","P50","CONTROL","AVG","OPER"], "range": ["#f2f2a6","#e6f2a6","#3f3fd0","#111111","#2ecc2e"]},
          "legend": null
        }
      }
    }
  ],
  "resolve": {"axis": {"y": "independent"}, "scale": {"color": "independent"}}
}
